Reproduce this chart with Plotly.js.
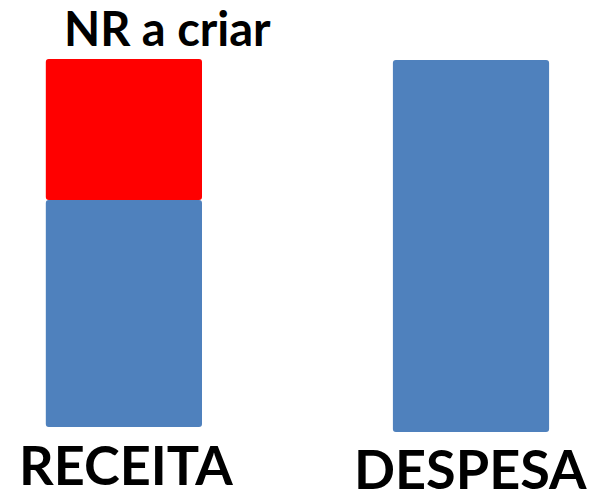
<!DOCTYPE html>
<html><head><meta charset="utf-8">
<script src="https://cdn.plot.ly/plotly-3.0.1.min.js"></script>
<style>html,body{margin:0;padding:0;background:#fff;}#chart{width:589px;height:497px;}</style>
</head><body><div id="chart"></div>
<script>
const categories = ["RECEITA", "DESPESA"];
const baseValues = [70, 65];
const blueValues = [227, 372];
const redValues = [141, 0];
const redLabel = "NR a criar";

const traces = [
  {type:'bar', x:categories, y:blueValues, base:baseValues, width:0.45,
   marker:{color:'#4F81BD', cornerradius:3}, hoverinfo:'skip'},
  {type:'bar', x:categories, y:redValues,
   base:baseValues.map((b,i)=>b+blueValues[i]), width:0.45,
   marker:{color:'#FF0000', cornerradius:3}, hoverinfo:'skip'}
];
const font = {family:'Lato, "Open Sans", sans-serif', color:'#000', weight:700};
const layout = {
  width:589, height:497, margin:{l:0,r:0,t:0,b:0},
  paper_bgcolor:'#fff', plot_bgcolor:'#fff', showlegend:false, barmode:'overlay',
  xaxis:{type:'category', range:[-0.357,1.340], visible:false, fixedrange:true},
  yaxis:{range:[0,497], visible:false, fixedrange:true},
  annotations:[
    {x:categories[0], y:0, yref:'y', yanchor:'bottom', xshift:2, yshift:-2, text:categories[0], showarrow:false, font:Object.assign({size:54},font)},
    {x:categories[1], y:0, yref:'y', yanchor:'bottom', xshift:0, yshift:-6, text:categories[1], showarrow:false, font:Object.assign({size:54},font)},
    {x:categories[0], y:baseValues[0]+blueValues[0]+redValues[0], yref:'y', yanchor:'bottom', xshift:44, yshift:1, text:redLabel, showarrow:false, font:Object.assign({size:47},font)}
  ]
};
Plotly.newPlot('chart', traces, layout, {staticPlot:true, displayModeBar:false});
</script></body></html>
